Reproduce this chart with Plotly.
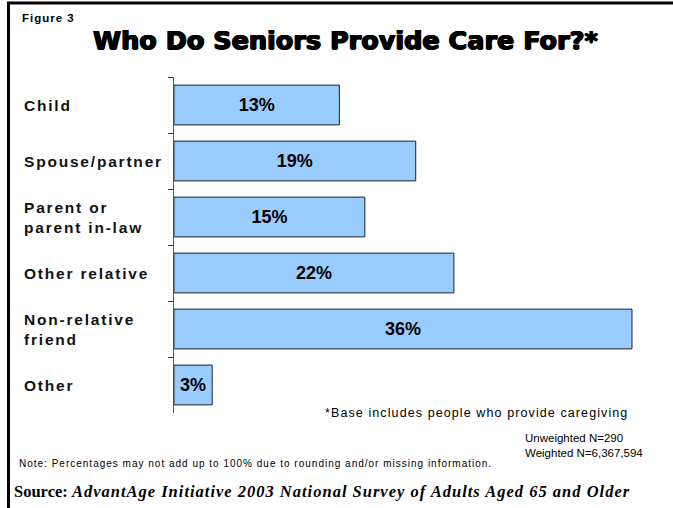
import plotly.graph_objects as go

categories = ["Child", "Spouse/partner", "Parent or parent in-law", "Other relative",
              "Non-relative friend", "Other"]
display_labels = ["Child", "Spouse/partner", "Parent or<br>parent in-law", "Other relative",
                  "Non-relative<br>friend", "Other"]
values = [13, 19, 15, 22, 36, 3]
value_labels = [f"{v}%" for v in values]

W, H = 673, 508
L, R, T, B = 174, 650, 77, 413  # plot area in pixels
pw, ph = R - L, B - T


def px(x):
    return (x - L) / pw


def py(y):
    return (B - y) / ph


def spaced(s, sp):
    return f"<span style='letter-spacing:{sp}px'>{s}</span>"


fig = go.Figure(go.Bar(
    x=values, y=categories, orientation="h",
    marker=dict(color="#99CCFF", line=dict(color="#222222", width=1)),
    text=value_labels, textposition="inside", insidetextanchor="middle",
    textangle=0, constraintext="none",
    textfont=dict(family="Liberation Sans", size=18, color="black", weight="bold"),
    width=0.71,
))

fig.update_layout(
    width=W, height=H,
    margin=dict(l=L, r=W - R, t=T, b=H - B, pad=0),
    paper_bgcolor="white", plot_bgcolor="white",
    showlegend=False,
    xaxis=dict(range=[0, pw / ((632 - 174) / 36)], visible=False, fixedrange=True),
    yaxis=dict(categoryorder="array", categoryarray=categories, autorange="reversed",
               showticklabels=False, showline=True, linecolor="#555555", linewidth=1,
               ticks="outside", tickson="boundaries", ticklen=5, tickcolor="#333333",
               showgrid=False, zeroline=False),
    font=dict(family="Liberation Sans", color="black"),
)

ann = []
for cat, lab in zip(categories, display_labels):
    ann.append(dict(x=px(22), y=cat, xref="paper", yref="y", text=spaced(lab, 1.8), showarrow=False,
                    xanchor="left", yanchor="middle", align="left",
                    font=dict(family="Liberation Sans", size=15.5, weight="bold", color="#111")))

ann += [
    dict(x=px(20), y=py(18), text=spaced("<b>Figure 3</b>", 1), font=dict(size=11.5)),
    dict(x=px(345), y=py(40), text="Who Do Seniors Provide Care For?*", xanchor="center",
         font=dict(family="DejaVu Sans", size=25.5, weight=900,
                   shadow="0.8px 0 0 black, -0.8px 0 0 black, 0 0.6px 0 black, 0 -0.3px 0 black")),
    dict(x=px(323), y=py(413), text=spaced("*Base includes people who provide caregiving", 1.1),
         font=dict(size=12.5)),
    dict(x=px(523), y=py(445), text="Unweighted N=290<br>Weighted N=6,367,594",
         align="left", font=dict(size=11.5)),
    dict(x=px(17), y=py(463),
         text=spaced("Note: Percentages may not add up to 100% due to rounding and/or missing information.", 1),
         font=dict(size=10)),
    dict(x=px(12), y=py(491),
         text="<b>Source:</b> " + spaced("<b><i>AdvantAge Initiative 2003 National Survey of Adults Aged 65 and Older</i></b>", 1),
         font=dict(family="Liberation Serif", size=16.5)),
]
for a in ann[len(categories):]:
    a.setdefault("xanchor", "left")
    a.update(xref="paper", yref="paper", yanchor="middle", showarrow=False)
    a.setdefault("align", "left")
fig.update_layout(annotations=ann)

fig.update_layout(shapes=[
    dict(type="line", xref="paper", yref="paper", x0=px(7), x1=px(673), y0=py(3), y1=py(3),
         line=dict(color="black", width=3)),
    dict(type="line", xref="paper", yref="paper", x0=px(8.5), x1=px(8.5), y0=py(2), y1=py(508),
         line=dict(color="black", width=3)),
])

fig.write_html("out.html")
